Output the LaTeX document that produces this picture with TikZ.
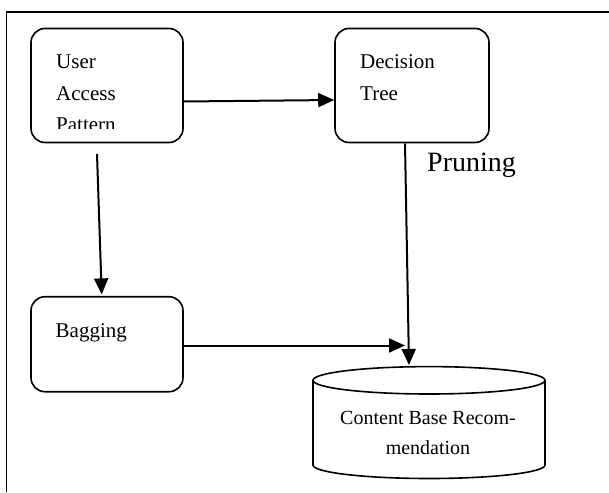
\documentclass[tikz,border=0pt]{standalone}
\usepackage{fontspec}
\setmainfont{Liberation Serif}
\usetikzlibrary{arrows.meta}

\begin{document}
\begin{tikzpicture}[x=1pt,y=-1pt,
  procbox/.style={draw,line width=1.6pt,rounded corners=14pt,minimum width=152pt,minimum height=114pt,inner sep=0pt},
  boxtext/.style={anchor=base west,inner sep=0pt,font=\fontsize{21}{25}\selectfont},
  flow/.style={line width=2pt,-{Triangle[length=16pt,width=14pt]}}]
\useasboundingbox (0,0) rectangle (609,492);
% outer frame
\draw [line width=1.7pt] (6.5,492) -- (6.5,12.3) -- (609,12.3);
% boxes
\node [procbox] (uap) at (107,85.5) {};
\node [procbox,minimum width=154pt] (dt) at (412,85.5) {};
\node [procbox,minimum height=95pt] (bag) at (107,344.2) {};
\node [boxtext] (uap1) at (56,68.3) {User};
\node [boxtext] (uap2) at (56,100) {Access};
\begin{scope}
\clip (31,28) rectangle (183,128.3);
\node [boxtext] (uap3) at (56,131.7) {Pattern};
\end{scope}
\node [boxtext] (dt1) at (360,68.3) {Decision};
\node [boxtext] (dt2) at (360,100) {Tree};
\node [boxtext] (bag1) at (55.5,337.3) {Bagging};
\node [boxtext,font=\fontsize{28}{34}\selectfont] (prun) at (427,171.7) {Pruning};
% database
\draw [line width=1.6pt] (313,380.3) -- (313,465) arc [start angle=180,end angle=0,x radius=116,y radius=13.5] -- (545,380.3);
\draw [line width=1.6pt] (429,380.3) ellipse [x radius=116,y radius=13.7];
\node [anchor=base,inner sep=0pt,font=\fontsize{20}{24}\selectfont] (cbr1) at (428,424) {Content Base Recom-};
\node [anchor=base,inner sep=0pt,font=\fontsize{20}{24}\selectfont] (cbr2) at (428,454) {mendation};
\coordinate (cbtop) at (409,365);
\coordinate (bagend) at (405,345.5);
% arrows
\draw [flow] ([yshift=-16pt]uap.east) -- ([yshift=-14.5pt]dt.west);
\draw [flow] ([xshift=-10pt,yshift=-10.6pt]uap.south) -- ([xshift=-5.3pt,yshift=1.5pt]bag.north);
\draw [flow] ([xshift=-7pt]dt.south) -- (cbtop);
\draw [flow] ([yshift=-1.3pt]bag.east) -- (bagend);
\end{tikzpicture}
\end{document}
